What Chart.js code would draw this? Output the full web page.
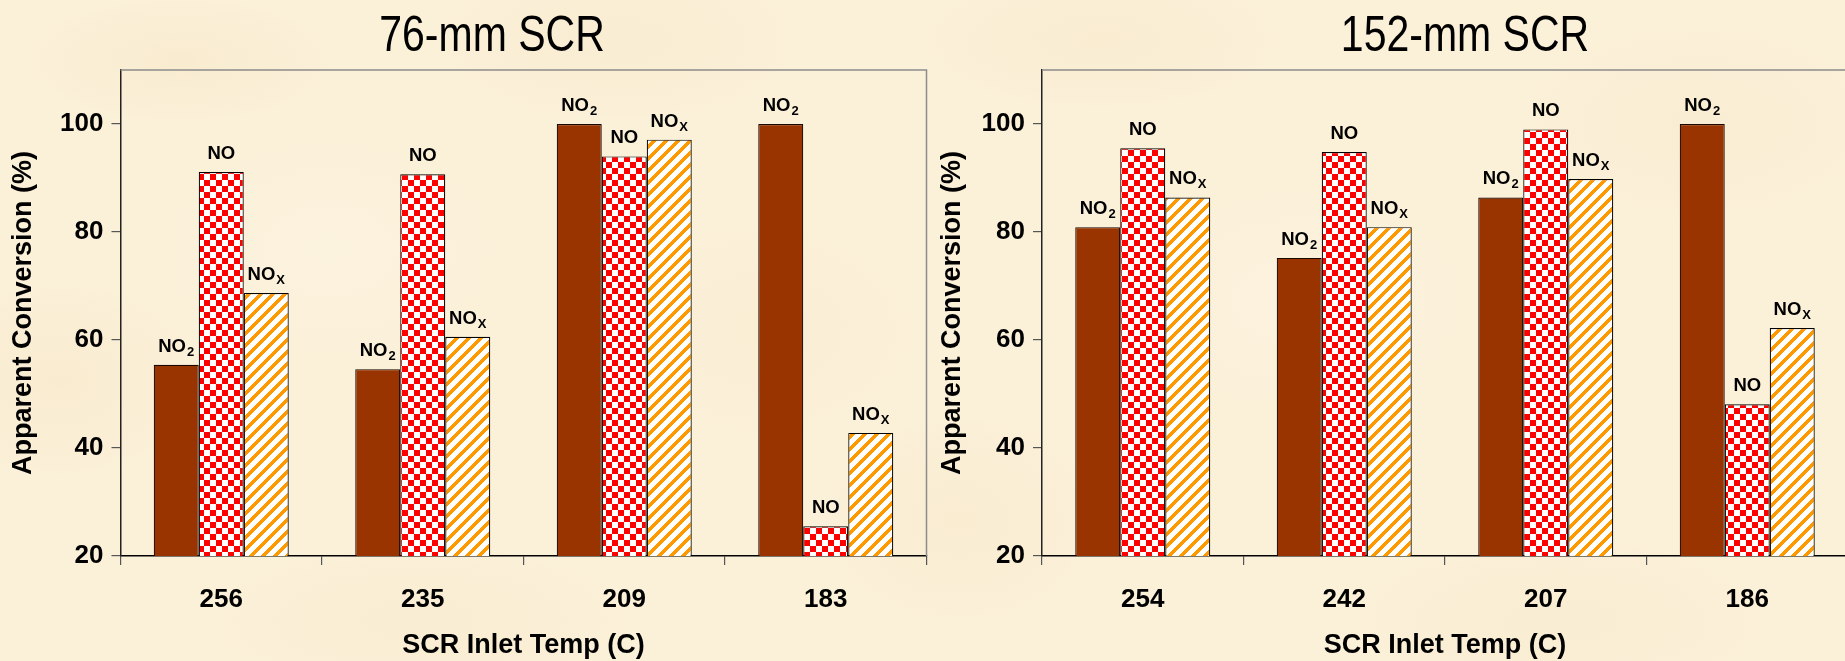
<!DOCTYPE html>
<html>
<head>
<meta charset="utf-8">
<title>Apparent conversion vs SCR inlet temperature</title>
<script src="https://cdn.jsdelivr.net/npm/chart.js@4.4.1/dist/chart.umd.min.js"></script>
<style>
  html, body { margin: 0; padding: 0; width: 1845px; height: 661px; overflow: hidden; }
  body {
    position: relative;
    background-color: #fbf0d8;
    background-image:
      radial-gradient(ellipse 220px 90px at 180px 60px, rgba(242,226,192,0.35), rgba(242,226,192,0) 70%),
      radial-gradient(ellipse 260px 120px at 620px 40px, rgba(243,228,195,0.3), rgba(243,228,195,0) 70%),
      radial-gradient(ellipse 200px 140px at 60px 380px, rgba(242,226,192,0.35), rgba(242,226,192,0) 70%),
      radial-gradient(ellipse 300px 110px at 420px 620px, rgba(243,228,195,0.3), rgba(243,228,195,0) 70%),
      radial-gradient(ellipse 240px 160px at 760px 330px, rgba(246,233,204,0.3), rgba(246,233,204,0) 70%),
      radial-gradient(ellipse 260px 100px at 1100px 40px, rgba(242,226,192,0.3), rgba(242,226,192,0) 70%),
      radial-gradient(ellipse 200px 150px at 960px 520px, rgba(242,226,192,0.3), rgba(242,226,192,0) 70%),
      radial-gradient(ellipse 300px 120px at 1560px 620px, rgba(243,228,195,0.3), rgba(243,228,195,0) 70%),
      radial-gradient(ellipse 260px 140px at 1700px 120px, rgba(244,230,198,0.3), rgba(244,230,198,0) 70%),
      radial-gradient(ellipse 240px 160px at 1300px 300px, rgba(253,246,230,0.5), rgba(253,246,230,0) 70%),
      radial-gradient(ellipse 240px 160px at 330px 250px, rgba(253,246,230,0.5), rgba(253,246,230,0) 70%);
  }
  canvas { position: absolute; top: 0; }
  #chart76 { left: 0; }
  #chart152 { left: 930px; }
</style>
</head>
<body>
<canvas id="chart76" width="984" height="661"></canvas>
<canvas id="chart152" width="1000" height="661"></canvas>
<script>
// SCR inlet temperatures (C) and apparent conversions (%) for each reactor size
const temps76 = ['256', '235', '209', '183'];
const no2_76  = [55.4, 54.6, 100, 100];
const no_76   = [91.1, 90.7, 94.0, 25.5];
const nox_76  = [68.7, 60.6, 97.1, 42.8];

const temps152 = ['254', '242', '207', '186'];
const no2_152  = [80.9, 75.2, 86.4, 100];
const no_152   = [95.5, 94.8, 99.0, 48.1];
const nox_152  = [86.4, 80.9, 89.8, 62.2];

const yTicks = [20, 40, 60, 80, 100];

// species names, drawn as main text + subscript
const speciesMain = ['NO', 'NO', 'NO'];
const speciesSub  = ['2', '', 'X'];

const FONT = '"Liberation Sans", Arial, Helvetica, sans-serif';
Chart.defaults.font.family = FONT;
Chart.defaults.color = '#000';

// red/white checkerboard fill
function checkerFill() {
  const c = document.createElement('canvas');
  c.width = c.height = 12;
  const g = c.getContext('2d');
  g.fillStyle = '#ffffff';
  g.fillRect(0, 0, 12, 12);
  g.fillStyle = '#ff0000';
  g.fillRect(0, 0, 6, 6);
  g.fillRect(6, 6, 6, 6);
  return g.createPattern(c, 'repeat');
}

// orange upward-diagonal stripes on white
function stripeFill() {
  const c = document.createElement('canvas');
  c.width = c.height = 12;
  const g = c.getContext('2d');
  const img = g.createImageData(12, 12);
  for (let y = 0; y < 12; y++) {
    for (let x = 0; x < 12; x++) {
      const i = (y * 12 + x) * 4;
      const orange = ((x + y) % 12) < 5;
      img.data[i] = 255;
      img.data[i + 1] = orange ? 153 : 255;
      img.data[i + 2] = orange ? 0 : 255;
      img.data[i + 3] = 255;
    }
  }
  g.putImageData(img, 0, 0);
  return g.createPattern(c, 'repeat');
}

const checker = checkerFill();
const stripes = stripeFill();

// grey frame on the top and right of the plot area
const plotFrame = {
  id: 'plotFrame',
  beforeDatasetsDraw(chart) {
    const { ctx, chartArea: a } = chart;
    ctx.save();
    ctx.strokeStyle = '#8c8c8c';
    ctx.lineWidth = 1.5;
    ctx.beginPath();
    ctx.moveTo(a.left, a.top);
    ctx.lineTo(a.right, a.top);
    ctx.lineTo(a.right, a.bottom);
    ctx.stroke();
    ctx.restore();
  }
};

// species name above every bar, with subscript
const speciesLabels = {
  id: 'speciesLabels',
  afterDatasetsDraw(chart) {
    const ctx = chart.ctx;
    const mainFont = 'bold 18.5px ' + FONT;
    const subFont = 'bold 13px ' + FONT;
    chart.data.datasets.forEach((ds, i) => {
      const meta = chart.getDatasetMeta(i);
      const main = speciesMain[i];
      const sub = speciesSub[i];
      meta.data.forEach(bar => {
        ctx.save();
        ctx.fillStyle = '#000';
        ctx.textAlign = 'left';
        ctx.textBaseline = 'alphabetic';
        ctx.font = mainFont;
        const wm = ctx.measureText(main).width;
        ctx.font = subFont;
        const ws = sub ? ctx.measureText(sub).width + 1 : 0;
        const x0 = bar.x - (wm + ws) / 2;
        const yb = bar.y - 13;
        ctx.font = mainFont;
        ctx.fillText(main, x0, yb);
        if (sub) {
          ctx.font = subFont;
          ctx.fillText(sub, x0 + wm + 1, yb + 4);
        }
        ctx.restore();
      });
    });
  }
};

// narrow slide-style heading above each chart
const heading = {
  id: 'heading',
  afterDraw(chart, args, opts) {
    const ctx = chart.ctx;
    ctx.save();
    ctx.font = '50px "Liberation Sans Narrow", "Liberation Sans", sans-serif';
    const wNarrow = ctx.measureText(opts.text).width;
    ctx.font = '50px "Liberation Sans", sans-serif';
    const wRegular = ctx.measureText(opts.text).width;
    ctx.font = '50px "Liberation Sans Narrow", "Liberation Sans", sans-serif';
    const sx = (wNarrow < wRegular * 0.95) ? 1 : 0.82;
    ctx.fillStyle = '#000';
    ctx.textAlign = 'center';
    ctx.textBaseline = 'alphabetic';
    ctx.translate(opts.x, opts.y);
    ctx.scale(sx, 1);
    ctx.fillText(opts.text, 0, 0);
    ctx.restore();
  }
};

function makeChart(id, cats, no2, no, nox, axisWidth, padRight, title, titleX, yTitlePad) {
  const barOpts = { categoryPercentage: 0.67, barPercentage: 1.0, borderWidth: 1.2, borderColor: '#000' };
  return new Chart(document.getElementById(id), {
    type: 'bar',
    data: {
      labels: cats,
      datasets: [
        Object.assign({ label: 'NO2', data: no2, backgroundColor: '#993300' }, barOpts, { borderColor: '#1a0800' }),
        Object.assign({ label: 'NO', data: no, backgroundColor: checker }, barOpts),
        Object.assign({ label: 'NOX', data: nox, backgroundColor: stripes }, barOpts)
      ]
    },
    options: {
      responsive: false,
      animation: false,
      devicePixelRatio: 1,
      layout: { padding: { left: 0, right: padRight, top: 70, bottom: 0 } },
      plugins: {
        legend: { display: false },
        tooltip: { enabled: false },
        heading: { text: title, x: titleX, y: 51 }
      },
      scales: {
        x: {
          grid: { display: true, drawOnChartArea: false, drawTicks: true, tickLength: 9, color: '#555', lineWidth: 1.2, offset: true },
          border: { display: true, color: '#000', width: 1.5 },
          ticks: { font: { size: 26, weight: 'bold' }, color: '#000', padding: 19 },
          title: { display: true, text: 'SCR Inlet Temp (C)', color: '#000',
                   font: { size: 27, weight: 'bold', lineHeight: 1 }, padding: { top: 0, bottom: 1.5 } },
          afterFit(s) { s.height = 105; }
        },
        y: {
          min: 20,
          max: 110,
          afterBuildTicks(s) { s.ticks = yTicks.map(v => ({ value: v })); },
          grid: { drawOnChartArea: false, drawTicks: true, tickLength: 9, color: '#555', lineWidth: 1.2 },
          border: { display: true, color: '#222', width: 1.5 },
          ticks: { font: { size: 26, weight: 'bold' }, color: '#000', padding: 8 },
          title: { display: true, text: 'Apparent Conversion (%)', color: '#000',
                   font: { size: 27, weight: 'bold', lineHeight: 1 }, padding: { top: yTitlePad, bottom: 0 } },
          afterFit(s) { s.width = axisWidth; }
        }
      }
    },
    plugins: [plotFrame, speciesLabels, heading]
  });
}

makeChart('chart76', temps76, no2_76, no_76, nox_76, 120.5, 57.5, '76-mm SCR', 492, 10);
makeChart('chart152', temps152, no2_152, no_152, nox_152, 112, 82, '152-mm SCR', 535, 9.5);
</script>
</body>
</html>
